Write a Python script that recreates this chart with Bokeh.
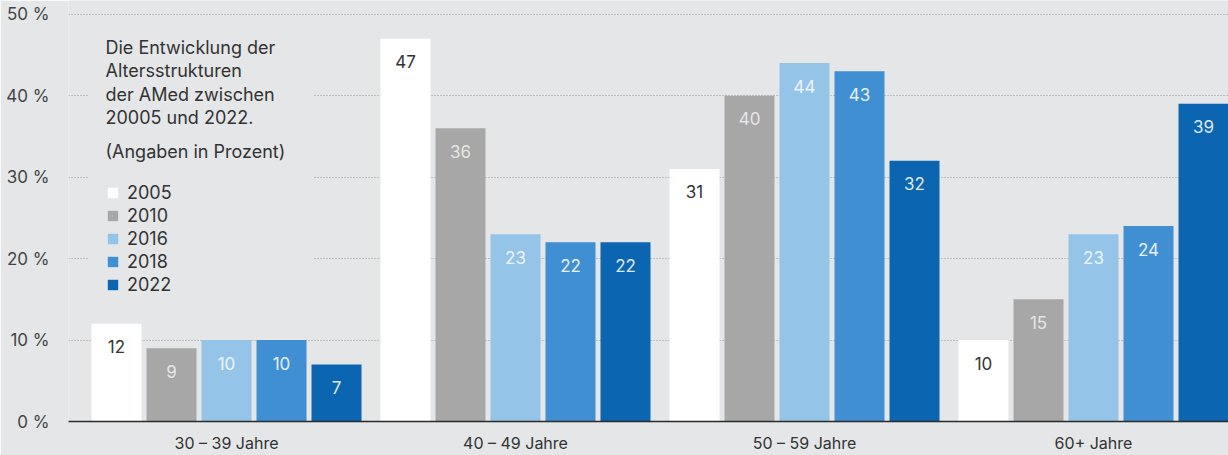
from bokeh.plotting import figure
from bokeh.models import (ColumnDataSource, FixedTicker, Legend, LegendItem,
                          BoxAnnotation, Label)
from bokeh.core.properties import value
from bokeh.embed import file_html
from bokeh.resources import INLINE

# ---------------- data ----------------
categories = ["30 – 39 Jahre", "40 – 49 Jahre", "50 – 59 Jahre", "60+ Jahre"]
years = ["2005", "2010", "2016", "2018", "2022"]
v2005 = [12, 47, 31, 10]
v2010 = [9, 36, 40, 15]
v2016 = [10, 23, 44, 23]
v2018 = [10, 22, 43, 24]
v2022 = [7, 22, 32, 39]
y_ticks = [0, 10, 20, 30, 40, 50]
y_tick_labels = ["0 %", "10 %", "20 %", "30 %", "40 %", "50 %"]
title_lines = ["Die Entwicklung der", "Altersstrukturen",
               "der AMed zwischen", "20005 und 2022."]
subtitle = "(Angaben in Prozent)"

series = [v2005, v2010, v2016, v2018, v2022]

# ---------------- styles ----------------
FONT = "Inter"
BG = "#e4e6e8"
colors = ["#ffffff", "#a7a7a7", "#95c4e9", "#3f8fd2", "#0b65b0"]
label_colors = ["#333333", "#e6e6e6", "#eef4fa", "#e8f0f8", "#dce8f4"]
TXT = "#333333"

W, H = 1228, 455
FRAME_LEFT, FRAME_BOTTOM_PAD = 68, 26
GROUP_PX = 289.0
BAR_STEP = 55.0 / GROUP_PX
BAR_W = 50.0 / GROUP_PX
PX_PER_UNIT = 8.3
frame_h = H - FRAME_BOTTOM_PAD
y_end = frame_h / PX_PER_UNIT
x_start = -(226 - FRAME_LEFT) / GROUP_PX
x_end = x_start + (W - FRAME_LEFT) / GROUP_PX

p = figure(width=W, height=H, output_backend="svg", toolbar_location=None,
           x_range=(x_start, x_end), y_range=(0, y_end),
           min_border_left=FRAME_LEFT, min_border_right=0,
           min_border_top=0, min_border_bottom=FRAME_BOTTOM_PAD)
p.background_fill_color = BG
p.border_fill_color = BG
p.outline_line_color = None

# gridlines
p.xgrid.grid_line_color = None
p.ygrid.ticker = FixedTicker(ticks=y_ticks)
p.ygrid.grid_line_color = "#979797"
p.ygrid.grid_line_dash = "1 2"
p.ygrid.grid_line_width = 1

def px_to_x(px):
    return x_start + (px - FRAME_LEFT) / GROUP_PX

def py_to_y(py):
    return (frame_h - py) / PX_PER_UNIT

# box hiding gridlines behind the text block
p.add_layout(BoxAnnotation(left=px_to_x(88), right=px_to_x(313),
                           top=py_to_y(30), bottom=py_to_y(298),
                           fill_color=BG, fill_alpha=1.0, line_alpha=0,
                           level="underlay"))

renderers = []
for j, vals in enumerate(series):
    xs = [i + (j - 2) * BAR_STEP for i in range(len(categories))]
    src = ColumnDataSource(dict(x=xs, top=vals, lab=[str(v) for v in vals]))
    r = p.vbar(x="x", top="top", width=BAR_W, bottom=0, source=src,
               fill_color=colors[j], line_color=None)
    renderers.append(r)
    p.text(x="x", y="top", text="lab", source=src, y_offset=23,
           text_align="center", text_baseline="middle",
           text_font=value(FONT), text_font_size="17px",
           text_color=label_colors[j])

# axes
p.xaxis.ticker = FixedTicker(ticks=list(range(len(categories))))
p.xaxis.major_label_overrides = {i: c for i, c in enumerate(categories)}
p.xaxis.major_tick_line_color = None
p.xaxis.minor_tick_line_color = None
p.xaxis.axis_line_color = "#2b2b2b"
p.xaxis.axis_line_width = 1.5
p.xaxis.major_label_text_font = FONT
p.xaxis.major_label_text_font_size = "16px"
p.xaxis.major_label_text_color = TXT
p.xaxis.major_label_standoff = 5

p.yaxis.ticker = FixedTicker(ticks=y_ticks)
p.yaxis.major_label_overrides = {t: l for t, l in zip(y_ticks, y_tick_labels)}
p.yaxis.axis_line_color = None
p.yaxis.major_tick_line_color = None
p.yaxis.minor_tick_line_color = None
p.yaxis.major_label_text_font = FONT
p.yaxis.major_label_text_font_size = "17px"
p.yaxis.major_label_text_color = "#444444"
p.yaxis.major_label_standoff = 13

# title text
for k, line in enumerate(title_lines):
    p.add_layout(Label(x=px_to_x(105), y=py_to_y(48 + k * 23.7), text=line,
                       text_font=FONT, text_font_size="18px", text_color=TXT,
                       text_baseline="middle", text_align="left"))
p.add_layout(Label(x=px_to_x(105), y=py_to_y(154), text=subtitle,
                   text_font=FONT, text_font_size="18px", text_color=TXT,
                   text_baseline="middle", text_align="left"))

# legend
items = [LegendItem(label=yr, renderers=[r]) for yr, r in zip(years, renderers)]
legend = Legend(items=items, location=(106 - FRAME_LEFT, frame_h - 303),
                orientation="vertical", padding=0, margin=0,
                glyph_width=13, glyph_height=13, label_height=20, spacing=2,
                label_standoff=8, label_text_font=FONT,
                label_text_font_size="18px", label_text_color=TXT,
                background_fill_alpha=0, border_line_color=None)
p.add_layout(legend)

open("out.html", "w").write(file_html(p, INLINE))
